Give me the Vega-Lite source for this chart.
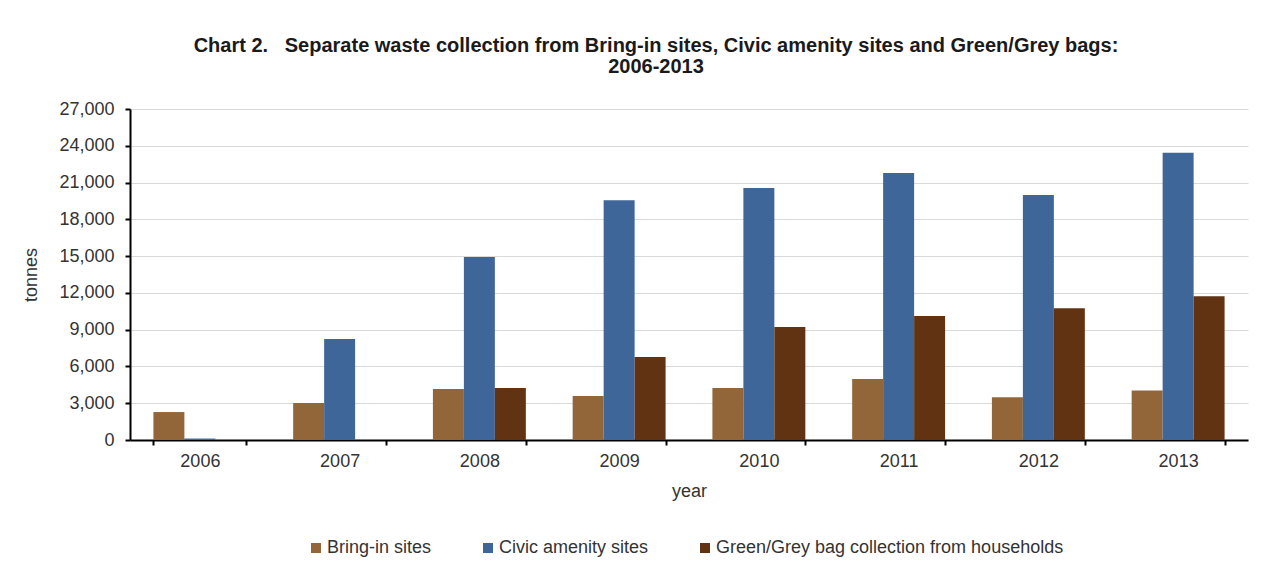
{
  "$schema": "https://vega.github.io/schema/vega-lite/v6.json",
  "width": 1118,
  "height": 331,
  "autosize": {"type": "none"},
  "padding": {"left": 130, "top": 109, "right": 20, "bottom": 125},
  "background": "white",
  "title": {
    "text": ["Chart 2.\u00a0\u00a0\u00a0Separate waste collection from Bring-in sites, Civic amenity sites and Green/Grey bags:", "2006-2013"],
    "font": "Liberation Sans",
    "fontSize": 20,
    "fontWeight": "bold",
    "color": "#1a1a1a",
    "anchor": "middle",
    "offset": 23,
    "lineHeight": 21,
    "dx": -33
  },
  "data": {
    "values": [
      {"year": "2006", "series": "Bring-in sites", "tonnes": 2280},
      {"year": "2006", "series": "Civic amenity sites", "tonnes": 120},
      {"year": "2007", "series": "Bring-in sites", "tonnes": 3020},
      {"year": "2007", "series": "Civic amenity sites", "tonnes": 8240},
      {"year": "2008", "series": "Bring-in sites", "tonnes": 4160},
      {"year": "2008", "series": "Civic amenity sites", "tonnes": 14930},
      {"year": "2008", "series": "Green/Grey bag collection from households", "tonnes": 4240},
      {"year": "2009", "series": "Bring-in sites", "tonnes": 3590},
      {"year": "2009", "series": "Civic amenity sites", "tonnes": 19560},
      {"year": "2009", "series": "Green/Grey bag collection from households", "tonnes": 6770},
      {"year": "2010", "series": "Bring-in sites", "tonnes": 4240},
      {"year": "2010", "series": "Civic amenity sites", "tonnes": 20550},
      {"year": "2010", "series": "Green/Grey bag collection from households", "tonnes": 9220},
      {"year": "2011", "series": "Bring-in sites", "tonnes": 4970},
      {"year": "2011", "series": "Civic amenity sites", "tonnes": 21780},
      {"year": "2011", "series": "Green/Grey bag collection from households", "tonnes": 10110},
      {"year": "2012", "series": "Bring-in sites", "tonnes": 3480},
      {"year": "2012", "series": "Civic amenity sites", "tonnes": 19980},
      {"year": "2012", "series": "Green/Grey bag collection from households", "tonnes": 10750},
      {"year": "2013", "series": "Bring-in sites", "tonnes": 4030},
      {"year": "2013", "series": "Civic amenity sites", "tonnes": 23440},
      {"year": "2013", "series": "Green/Grey bag collection from households", "tonnes": 11720}
    ]
  },
  "mark": {"type": "bar"},
  "encoding": {
    "x": {
      "field": "year",
      "type": "nominal",
      "scale": {"paddingInner": 0.335, "paddingOuter": 0.1675},
      "axis": {
        "title": "year",
        "labelAngle": 0,
        "tickBand": "extent",
        "domainColor": "#000000",
        "domainWidth": 2,
        "tickColor": "#000000",
        "tickWidth": 2,
        "tickSize": 5,
        "labelPadding": 7,
        "titlePadding": 12,
        "grid": false
      }
    },
    "xOffset": {
      "field": "series",
      "type": "nominal",
      "sort": ["Bring-in sites", "Civic amenity sites", "Green/Grey bag collection from households"],
      "scale": {"paddingInner": 0, "paddingOuter": 0, "domain": ["Bring-in sites", "Civic amenity sites", "Green/Grey bag collection from households"]}
    },
    "y": {
      "field": "tonnes",
      "type": "quantitative",
      "scale": {"domain": [0, 27000], "nice": false},
      "axis": {
        "title": "tonnes",
        "values": [0, 3000, 6000, 9000, 12000, 15000, 18000, 21000, 24000, 27000],
        "format": ",d",
        "domainColor": "#000000",
        "domainWidth": 2,
        "tickColor": "#000000",
        "tickWidth": 2,
        "tickSize": 5,
        "labelPadding": 11,
        "titlePadding": 18,
        "gridColor": "#d9d9d9",
        "gridWidth": 1
      }
    },
    "color": {
      "field": "series",
      "type": "nominal",
      "scale": {
        "domain": ["Bring-in sites", "Civic amenity sites", "Green/Grey bag collection from households"],
        "range": ["#936639", "#3e6699", "#613313"]
      },
      "legend": {
        "title": null,
        "orient": "none",
        "legendX": 177,
        "legendY": 430,
        "direction": "horizontal",
        "symbolType": "square",
        "symbolSize": 100,
        "symbolStrokeWidth": 0,
        "labelOffset": 2,
        "labelLimit": 1000,
        "columnPadding": 47
      }
    }
  },
  "config": {
    "view": {"stroke": null},
    "font": "Liberation Sans",
    "axis": {
      "labelFont": "Liberation Sans",
      "labelFontSize": 18,
      "labelColor": "#333333",
      "titleFont": "Liberation Sans",
      "titleFontSize": 18,
      "titleFontWeight": "normal",
      "titleColor": "#333333"
    },
    "legend": {
      "labelFont": "Liberation Sans",
      "labelFontSize": 18,
      "labelColor": "#333333",
      "symbolOpacity": 1
    }
  }
}
